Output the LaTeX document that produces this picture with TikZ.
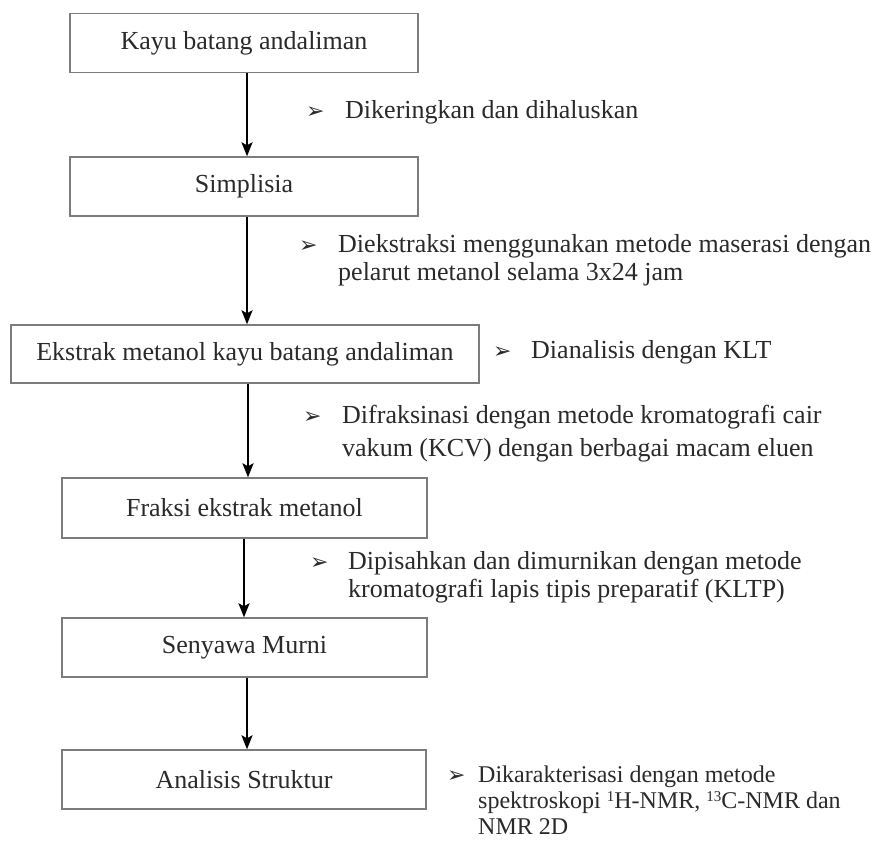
\documentclass[tikz,border=0pt]{standalone}
\usepackage{fontspec}
\setmainfont{Liberation Serif}
\newfontfamily\dvsans{DejaVu Sans}
\usetikzlibrary{arrows.meta}
\definecolor{boxgray}{HTML}{7C7C7C}
\definecolor{txt}{HTML}{2A2A2A}
\newcommand\mysup[1]{\raisebox{0.6ex}{\fontsize{15}{15}\selectfont #1}}
\begin{document}
\begin{tikzpicture}[x=1pt,y=-1pt,
  box/.style={draw=boxgray, line width=1.4pt, inner sep=0pt, text=txt,
    font=\fontsize{26}{30}\selectfont, minimum height=59pt},
  flow/.style={-{Stealth[length=14pt,width=11pt,inset=3pt]}, line width=2pt, black},
  note/.style={anchor=base west, inner sep=0pt, text=txt, font=\fontsize{26}{30}\selectfont},
  smallnote/.style={anchor=base west, inner sep=0pt, text=txt, font=\fontsize{24}{26}\selectfont},
  bul/.style={anchor=base west, inner sep=0pt, text=txt, font=\dvsans\fontsize{22}{22}\selectfont}]
\useasboundingbox[fill=white] (0,0) rectangle (877,856);

% boxes
\node[box, minimum width=348pt] (b1) at (244,43) {Kayu batang andaliman};
\node[box, minimum width=348pt] (b2) at (244,186.5) {Simplisia};
\node[box, minimum width=468pt, minimum height=58pt] (b3) at (245,354) {Ekstrak metanol kayu batang andaliman};
\node[box, minimum width=365pt, minimum height=60pt] (b4) at (244.5,508) {Fraksi ekstrak metanol};
\node[box, minimum width=365pt] (b5) at (244.5,647.5) {Senyawa Murni};
\node[box, minimum width=364pt] (b6) at (244,779.5) {Analisis Struktur};

% arrows
\draw[flow] ([xshift=3pt]b1.south) -- ([xshift=3pt]b2.north);
\draw[flow] ([xshift=3pt]b2.south) -- ([xshift=2pt]b3.north);
\draw[flow] ([xshift=3pt]b3.south) -- ([xshift=3.5pt]b4.north);
\draw[flow] ([xshift=-0.5pt]b4.south) -- ([xshift=-0.5pt]b5.north);
\draw[flow] ([xshift=2.5pt]b5.south) -- ([xshift=3pt]b6.north);

% notes
\node[bul] (u1) at (306,118) {➢};
\node[note] (t1) at (345,118) {Dikeringkan dan dihaluskan};

\node[bul] (u2) at (299,252) {➢};
\node[note] (t2a) at (338,252) {Diekstraksi menggunakan metode maserasi dengan};
\node[note] (t2b) at (338,280) {pelarut metanol selama 3x24 jam};

\node[bul] (u3) at (493,358) {➢};
\node[note] (t3) at (531,358) {Dianalisis dengan KLT};

\node[bul] (u4) at (303,423) {➢};
\node[note] (t4a) at (342,423) {Difraksinasi dengan metode kromatografi cair};
\node[note] (t4b) at (342,456) {vakum (KCV) dengan berbagai macam eluen};

\node[bul] (u5) at (310,569) {➢};
\node[note] (t5a) at (348,569) {Dipisahkan dan dimurnikan dengan metode};
\node[note] (t5b) at (348,597) {kromatografi lapis tipis preparatif (KLTP)};

\node[bul] (u6) at (447,782) {➢};
\node[smallnote] (t6a) at (478,782) {Dikarakterisasi dengan metode};
\node[smallnote] (t6b) at (478,808) {spektroskopi \mysup{1}H-NMR, \mysup{13}C-NMR dan};
\node[smallnote] (t6c) at (478,834) {NMR 2D};
\end{tikzpicture}
\end{document}
